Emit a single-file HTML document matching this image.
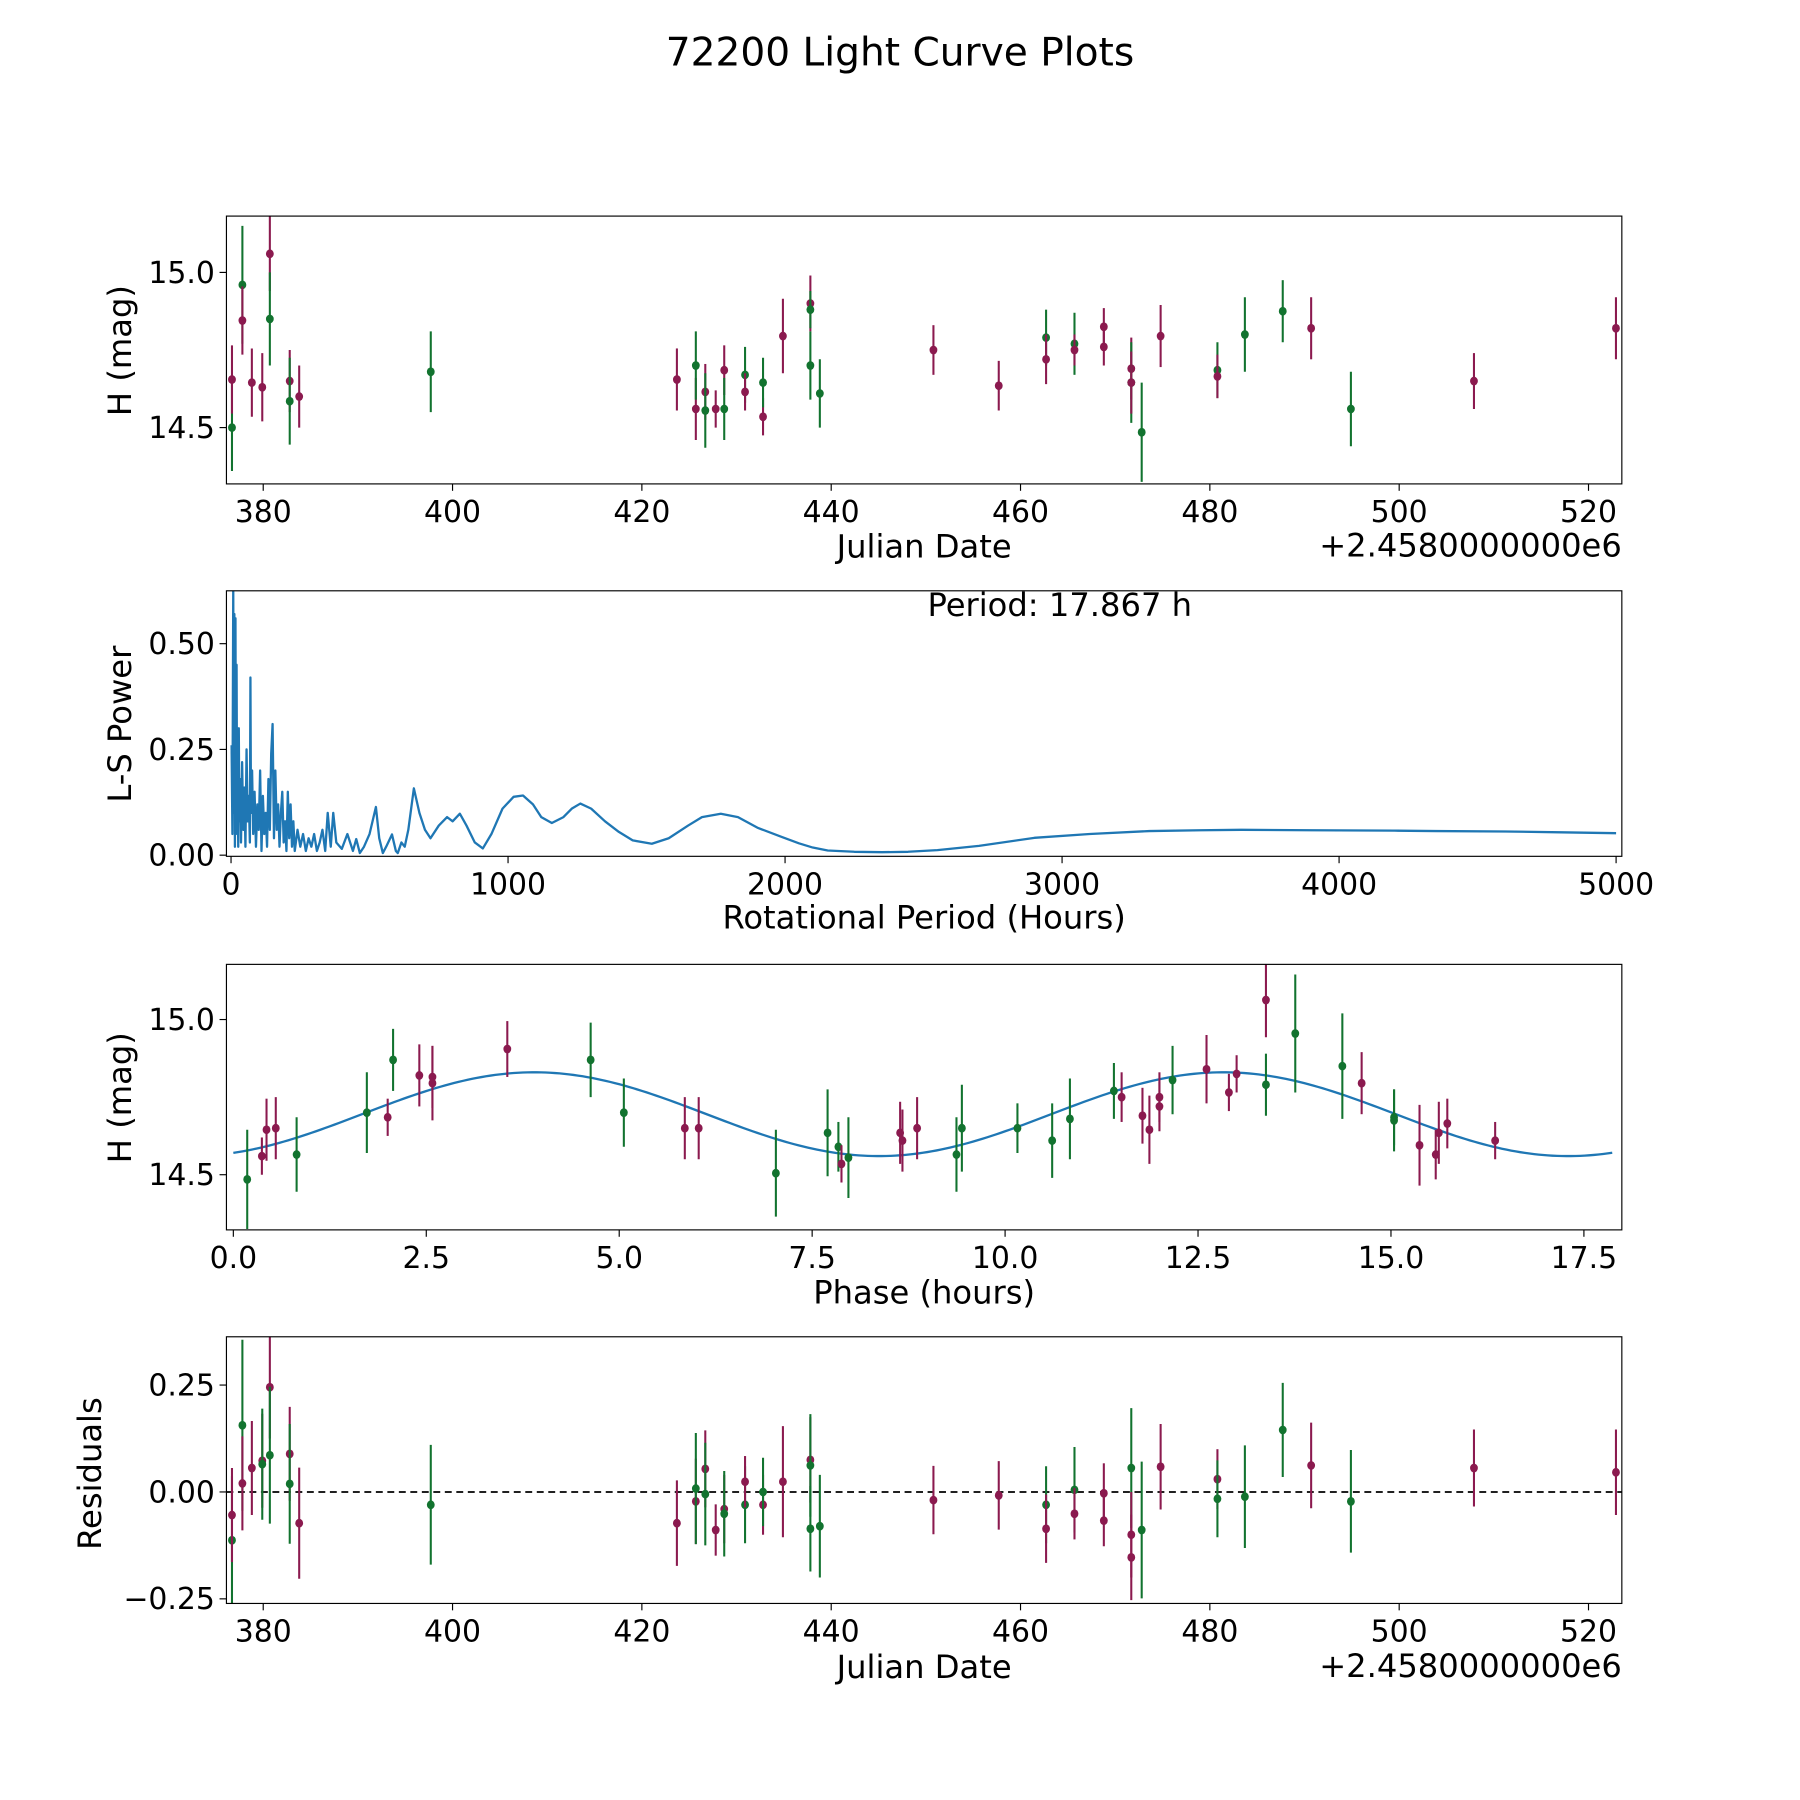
<!DOCTYPE html>
<html><head><meta charset="utf-8"><style>html,body{margin:0;padding:0;background:#fff}svg{display:block}text{font-family:"DejaVu Sans","Liberation Sans",sans-serif;fill:#000}</style></head>
<body>
<svg id="chart" width="1800" height="1800" viewBox="0 0 1566 1566" xmlns="http://www.w3.org/2000/svg">
<text x="783" y="57" font-size="34" text-anchor="middle">72200 Light Curve Plots</text>
</svg>
<script>
// ---- Panel 1 data: light curve ----
const lcDates=[376.7,376.7,377.8,377.8,378.8,379.9,380.7,380.7,382.8,382.8,383.8,397.7,423.7,425.7,425.7,426.7,426.7,427.8,428.7,428.7,430.9,430.9,432.8,432.8,434.9,437.8,437.8,437.8,438.8,450.8,457.7,462.7,462.7,465.7,465.7,468.8,468.8,471.7,471.7,471.7,472.8,474.8,480.8,480.8,483.7,487.7,490.7,494.9,507.9,522.9];
const lcMags=[14.50,14.655,14.96,14.845,14.645,14.63,15.06,14.85,14.65,14.585,14.60,14.68,14.655,14.56,14.70,14.615,14.555,14.56,14.685,14.56,14.67,14.615,14.535,14.645,14.795,14.90,14.88,14.70,14.61,14.75,14.635,14.79,14.72,14.77,14.75,14.825,14.76,14.69,14.645,14.645,14.485,14.795,14.685,14.665,14.80,14.875,14.82,14.56,14.65,14.82];
const lcErrs=[0.14,0.11,0.19,0.11,0.11,0.11,0.12,0.15,0.10,0.14,0.10,0.13,0.10,0.10,0.11,0.09,0.12,0.06,0.08,0.10,0.09,0.06,0.06,0.08,0.12,0.09,0.06,0.11,0.11,0.08,0.08,0.09,0.08,0.10,0.05,0.06,0.06,0.10,0.13,0.10,0.16,0.10,0.09,0.07,0.12,0.10,0.10,0.12,0.09,0.10];
const lcColors="gmgmmmmgmgmgmmgmgmmggmmgmmgggmmgmgmmmmgmgmgmggmgmm".split("");
// ---- Panel 2 data: periodogram ----
const lsPeriods=[2,5,8,10,12,14,16,17,18,20,22,24,26,28,30,33,36,40,44,48,52,56,60,64,68,70,72,76,80,85,90,95,100,105,110,115,120,125,130,135,140,145,150,155,160,165,170,175,180,185,190,195,200,205,210,215,220,225,230,240,250,260,270,280,290,300,310,320,330,340,349,360,369,380,400,420,440,452,465,480,500,523,535,548,560,581,595,602,615,627,640,660,680,700,720,750,780,800,826,850,880,909,940,980,1020,1054,1090,1120,1158,1200,1230,1261,1300,1350,1400,1450,1519,1580,1650,1700,1768,1830,1900,1988,2050,2100,2154,2250,2350,2444,2550,2700,2900,3100,3315,3500,3647,3900,4200,4350,4600,4800,5000];
const lsPowers=[0.26,0.05,0.63,0.1,0.57,0.02,0.56,0.3,0.12,0.45,0.05,0.2,0.02,0.3,0.08,0.18,0.03,0.22,0.06,0.16,0.02,0.25,0.08,0.14,0.03,0.42,0.1,0.2,0.05,0.15,0.02,0.12,0.06,0.2,0.01,0.14,0.05,0.1,0.02,0.18,0.06,0.24,0.31,0.04,0.2,0.06,0.12,0.02,0.1,0.15,0.03,0.08,0.01,0.15,0.04,0.12,0.02,0.08,0.01,0.06,0.02,0.05,0.01,0.04,0.02,0.05,0.01,0.03,0.06,0.01,0.10,0.02,0.10,0.03,0.015,0.05,0.01,0.038,0.005,0.02,0.05,0.114,0.04,0.005,0.02,0.049,0.01,0.005,0.03,0.02,0.06,0.158,0.10,0.06,0.04,0.07,0.09,0.08,0.098,0.07,0.03,0.016,0.05,0.11,0.138,0.141,0.12,0.09,0.076,0.09,0.11,0.122,0.11,0.08,0.055,0.035,0.027,0.04,0.07,0.09,0.098,0.09,0.065,0.043,0.028,0.018,0.011,0.008,0.007,0.008,0.012,0.022,0.041,0.05,0.057,0.059,0.06,0.059,0.058,0.057,0.056,0.054,0.052];
const periodText="Period: 17.867 h";
// ---- Panel 3 data: phased curve ----
const phPhases=[0.18,0.37,0.43,0.55,0.82,1.73,2.0,2.07,2.41,2.58,2.58,3.55,4.63,5.06,5.85,6.03,7.03,7.70,7.84,7.88,7.97,8.64,8.67,8.86,9.37,9.44,10.16,10.61,10.84,11.41,11.51,11.78,11.87,12.00,12.00,12.17,12.61,12.90,13.00,13.38,13.38,13.76,14.37,14.62,15.04,15.04,15.37,15.58,15.62,15.73,16.35];
const phMags=[14.485,14.56,14.645,14.65,14.565,14.70,14.685,14.87,14.82,14.815,14.795,14.905,14.87,14.70,14.65,14.65,14.505,14.635,14.59,14.535,14.555,14.635,14.61,14.65,14.565,14.65,14.65,14.61,14.68,14.77,14.75,14.69,14.645,14.75,14.72,14.805,14.84,14.765,14.825,15.063,14.79,14.955,14.85,14.795,14.685,14.675,14.595,14.565,14.635,14.665,14.61];
const phErrs=[0.16,0.06,0.10,0.10,0.12,0.13,0.06,0.10,0.10,0.10,0.12,0.09,0.12,0.11,0.10,0.10,0.14,0.14,0.08,0.06,0.13,0.10,0.10,0.10,0.12,0.14,0.08,0.12,0.13,0.09,0.08,0.09,0.11,0.08,0.08,0.11,0.11,0.06,0.06,0.12,0.10,0.19,0.17,0.10,0.09,0.10,0.13,0.08,0.10,0.08,0.06];
const phColors="gmmmggmgmmmmggmmgggmgmmmggggggmmmmmgmmmmgggmggmmmmm".split("");
const fitMean=14.695, fitAmp=0.135, fitPeak=3.9, fitHalfPeriod=8.93, fitMaxPhase=17.867;
// ---- Panel 4 data: residuals ----
const resDates=[376.7,376.7,377.8,377.8,378.8,379.9,379.9,380.7,380.7,382.8,382.8,383.8,397.7,423.7,425.7,425.7,426.7,426.7,427.8,428.7,428.7,430.9,430.9,432.8,432.8,434.9,437.8,437.8,437.8,438.8,450.8,457.7,462.7,462.7,465.7,465.7,468.8,468.8,471.7,471.7,471.7,472.8,474.8,480.8,480.8,483.7,487.7,490.7,494.9,507.9,522.9];
const resVals=[-0.113,-0.054,0.156,0.02,0.056,0.073,0.065,0.245,0.086,0.089,0.019,-0.073,-0.03,-0.073,-0.022,0.008,0.054,-0.005,-0.089,-0.04,-0.051,-0.03,0.024,-0.03,0.0,0.024,0.075,0.062,-0.086,-0.08,-0.019,-0.008,-0.03,-0.086,0.005,-0.051,-0.003,-0.067,0.056,-0.1,-0.153,-0.089,0.059,0.03,-0.016,-0.011,0.145,0.062,-0.022,0.056,0.046];
const resErrs=[0.15,0.11,0.2,0.11,0.11,0.11,0.13,0.12,0.16,0.11,0.14,0.13,0.14,0.1,0.1,0.13,0.09,0.12,0.06,0.08,0.1,0.09,0.06,0.07,0.08,0.13,0.1,0.12,0.1,0.12,0.08,0.08,0.09,0.08,0.1,0.06,0.07,0.06,0.14,0.1,0.1,0.16,0.1,0.07,0.09,0.12,0.11,0.1,0.12,0.09,0.1];
const resColors="gmgmmmgmgmgmgmmgmgmmggmmgmmgggmmgmgmmmgmmgmmgggmgmm".split("");

const NS="http://www.w3.org/2000/svg";
const svg=document.getElementById('chart');
const COL={m:'#8b1a4f',g:'#12732f'};
function mk(tag,attrs,parent){const e=document.createElementNS(NS,tag);for(const k in attrs)e.setAttribute(k,attrs[k]);(parent||svg).appendChild(e);return e;}
function lin(d0,d1,r0,r1){return v=>r0+(v-d0)*(r1-r0)/(d1-d0);}
const L=197,R=1411;
function frame(name,top,bot){
  const g=mk('g',{});
  
  
  const cid='clip-'+name;
  const cp=mk('clipPath',{id:cid},g);mk('rect',{x:L,y:top,width:R-L,height:bot-top},cp);
  const plot=mk('g',{'clip-path':'url(#'+cid+')'},g);
  return {g,plot,top,bot};
}
function border(f){const r=mk('rect',{x:L,y:f.top,width:R-L,height:f.bot-f.top,fill:'none',stroke:'#000','stroke-width':1},f.g);}
function xticks(f,vals,labels,sx){vals.forEach((v,i)=>{const x=sx(v);mk('line',{x1:x,x2:x,y1:f.bot,y2:f.bot+6,stroke:'#000'},f.g);const t=mk('text',{x:x,y:f.bot+33,'font-size':26,'text-anchor':'middle'},f.g);t.textContent=labels[i];});}
function yticks(f,vals,labels,sy){vals.forEach((v,i)=>{const y=sy(v);mk('line',{x1:L-6,x2:L,y1:y,y2:y,stroke:'#000'},f.g);const t=mk('text',{x:L-10,y:y+9,'font-size':26,'text-anchor':'end'},f.g);t.textContent=labels[i];});}
function label(f,txt,x,y,rot,name){const t=mk('text',{x:x,y:y,'font-size':28,'text-anchor':'middle',transform:rot?`rotate(-90 ${x} ${y})`:''},f.g);t.textContent=txt;return t;}
function errpts(f,xs,ys,es,cs,sx,sy){xs.forEach((xv,i)=>{const x=sx(xv),c=COL[cs[i]]||'#8b1a4f';const l=mk('line',{x1:x,x2:x,y1:sy(ys[i]-es[i]),y2:sy(ys[i]+es[i]),stroke:c,'stroke-width':1.8},f.plot);const p=mk('ellipse',{cx:x,cy:sy(ys[i]),rx:3.4,ry:3.8,fill:c},f.plot);});}

// Panel 1
const sxJD=lin(380,520,229,1382);
const f1=frame('light-curve-panel',188,421);
const sy1=lin(15.0,14.5,237,372);
errpts(f1,lcDates,lcMags,lcErrs,lcColors,sxJD,sy1);
border(f1);
const jdTicks=[380,400,420,440,460,480,500,520];
xticks(f1,jdTicks,jdTicks.map(String),sxJD);
yticks(f1,[14.5,15.0],['14.5','15.0'],sy1);
label(f1,'Julian Date',804,485,false,'x-axis-title');
label(f1,'H (mag)',114,305,true,'y-axis-title');
let ot=mk('text',{x:1411,y:484,'font-size':28,'text-anchor':'end'},f1.g);ot.textContent='+2.4580000000e6';

// Panel 2
const f2=frame('periodogram-panel',514,745);
const sx2=lin(0,5000,201,1406),sy2=lin(0,0.5,744,560);
const pl=mk('polyline',{points:lsPeriods.map((p,i)=>sx2(p)+','+sy2(lsPowers[i])).join(' '),fill:'none',stroke:'#1f77b4','stroke-width':2,'stroke-linejoin':'round'},f2.plot);

border(f2);
const pT=[0,1000,2000,3000,4000,5000];xticks(f2,pT,pT.map(String),sx2);
yticks(f2,[0,0.25,0.5],['0.00','0.25','0.50'],sy2);
label(f2,'Rotational Period (Hours)',804,808,false,'x-axis-title');
label(f2,'L-S Power',114,630,true,'y-axis-title');
let pt=mk('text',{x:922,y:536,'font-size':28,'text-anchor':'middle'},f2.g);pt.textContent=periodText;

// Panel 3
const f3=frame('phased-curve-panel',839,1070);
const sx3=lin(0,17.5,203,1378),sy3=lin(15.0,14.5,887,1022);
const fitPts=[];for(let k=0;k<=300;k++){const ph=fitMaxPhase*k/300;fitPts.push(sx3(ph)+','+sy3(fitMean+fitAmp*Math.cos(2*Math.PI*(ph-fitPeak)/fitHalfPeriod)));}
const fl=mk('polyline',{points:fitPts.join(' '),fill:'none',stroke:'#1f77b4','stroke-width':2},f3.plot);

errpts(f3,phPhases,phMags,phErrs,phColors,sx3,sy3);
border(f3);
const phT=[0,2.5,5,7.5,10,12.5,15,17.5];xticks(f3,phT,phT.map(v=>v.toFixed(1)),sx3);
yticks(f3,[14.5,15.0],['14.5','15.0'],sy3);
label(f3,'Phase (hours)',804,1134,false,'x-axis-title');
label(f3,'H (mag)',114,955,true,'y-axis-title');

// Panel 4
const f4=frame('residuals-panel',1163,1395);
const sy4=lin(0,0.25,1298,1205);
const zl=mk('line',{x1:L,x2:R,y1:sy4(0),y2:sy4(0),stroke:'#000','stroke-width':1.5,'stroke-dasharray':'6,4'},f4.plot);

errpts(f4,resDates,resVals,resErrs,resColors,sxJD,sy4);
border(f4);
xticks(f4,jdTicks,jdTicks.map(String),sxJD);
yticks(f4,[-0.25,0,0.25],['\u22120.25','0.00','0.25'],sy4);
label(f4,'Julian Date',804,1460,false,'x-axis-title');
label(f4,'Residuals',88,1282,true,'y-axis-title');
ot=mk('text',{x:1411,y:1459,'font-size':28,'text-anchor':'end'},f4.g);ot.textContent='+2.4580000000e6';
</script>
</body></html>
